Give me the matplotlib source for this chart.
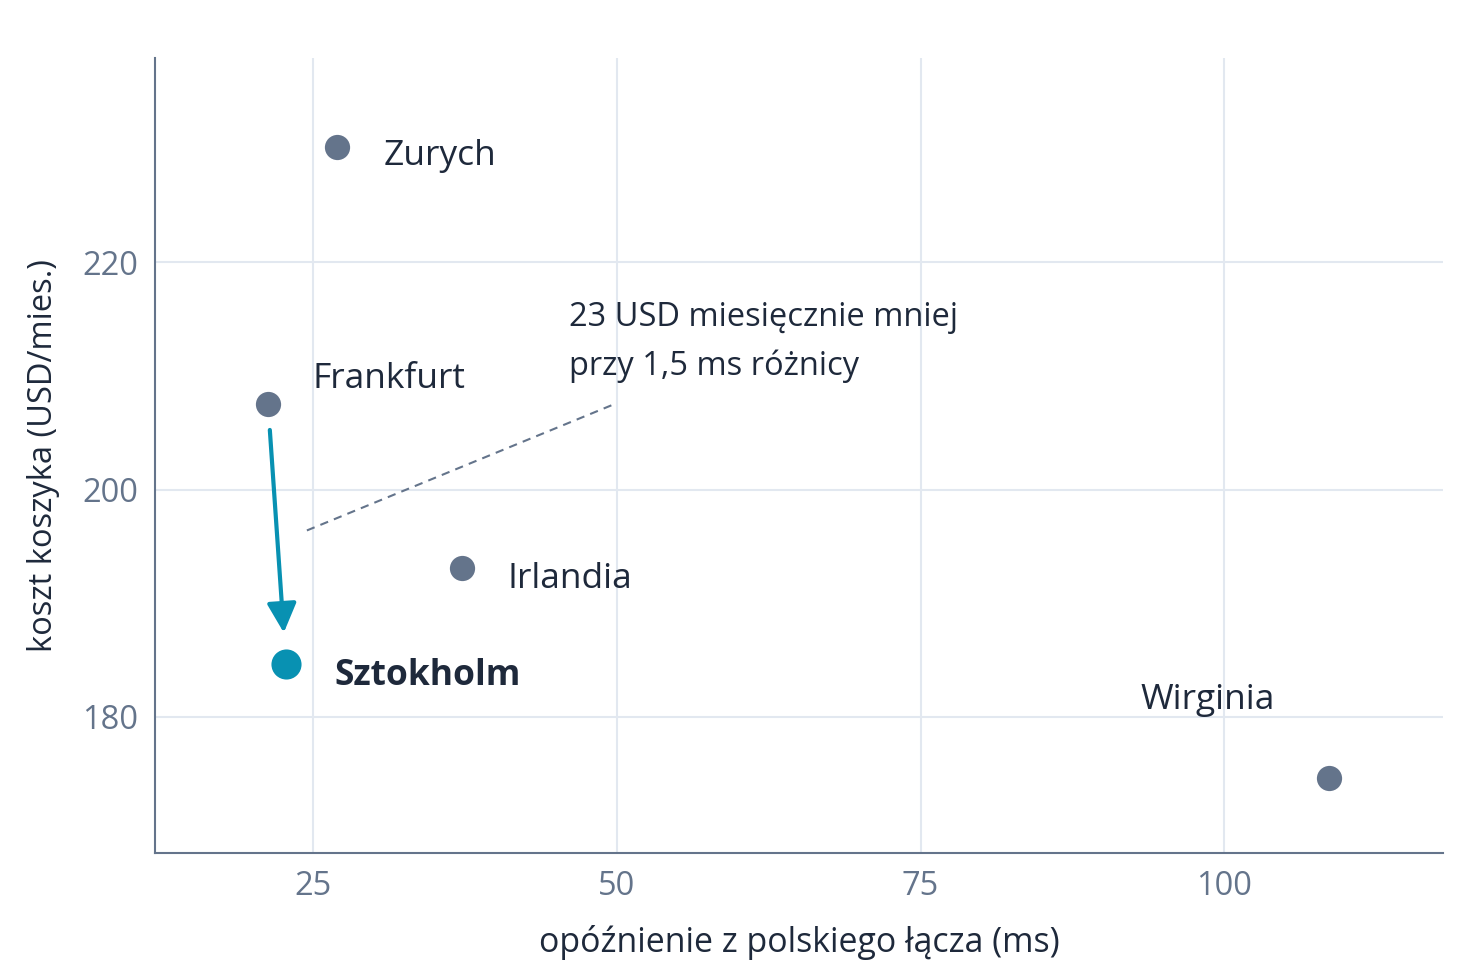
import matplotlib
matplotlib.use("Agg")
import matplotlib.pyplot as plt

plt.rcParams['font.family'] = ['Open Sans', 'DejaVu Sans']

cities = ["Zurych", "Frankfurt", "Irlandia", "Sztokholm", "Wirginia"]
latency_ms = [27.0, 21.3, 37.25, 22.8, 108.6]
cost_usd = [230.2, 207.5, 193.1, 184.6, 174.6]
highlight = "Sztokholm"

xticks = [25, 50, 75, 100]
yticks = [180, 200, 220]
note_text = "23 USD miesięcznie mniej\nprzy 1,5 ms różnicy"
xlabel = "opóźnienie z polskiego łącza (ms)"
ylabel = "koszt koszyka (USD/mies.)"

# label placement (pixel offsets, alignment)
label_style = {
    "Zurych": ((46, -9), "left"),
    "Frankfurt": ((44, 25), "left"),
    "Irlandia": ((46, -11), "left"),
    "Sztokholm": ((48, -12), "left"),
    "Wirginia": ((-121, 78), "center"),
}

DARK = "#1e293b"
GRAY = "#64748b"
ACCENT = "#0891b2"
GRID = "#e2e8f0"

fig = plt.figure(figsize=(14.8, 9.8), dpi=100)
ax = fig.add_axes([155/1480, 1-853/980, (1443-155)/1480, (853-58)/980])

ax.set_xlim(12, 118)
ax.set_ylim(168, 238)

for c, x, y in zip(cities, latency_ms, cost_usd):
    if c == highlight:
        ax.scatter([x], [y], s=470, color=ACCENT, zorder=4, linewidths=0)
    else:
        ax.scatter([x], [y], s=330, color=GRAY, zorder=4, linewidths=0)
    off, ha = label_style[c]
    ax.annotate(c, (x, y), xytext=off, textcoords="offset pixels",
                ha=ha, va="center", fontsize=25.5, color=DARK,
                fontweight="bold" if c == highlight else "normal", zorder=5)

# arrow Frankfurt -> Sztokholm
i_f = cities.index("Frankfurt")
i_s = cities.index(highlight)
ax.annotate("", xy=(latency_ms[i_s] - 0.2, cost_usd[i_s] + 2.8),
            xytext=(latency_ms[i_f] + 0.15, cost_usd[i_f] - 2.25),
            arrowprops=dict(arrowstyle="-|>,head_length=1.8,head_width=0.9",
                            color=ACCENT, lw=3, shrinkA=0, shrinkB=0),
            zorder=3)

# dashed leader line
ax.plot([24.5, 49.75], [196.4, 207.5], color=GRAY, lw=1.5,
        linestyle=(0, (4, 3)), zorder=3)
ax.text(46.05, 213.0, note_text, ha="left", va="center", fontsize=23.5,
        color=DARK, linespacing=1.6, zorder=5)

ax.set_xticks(xticks)
ax.set_yticks(yticks)
ax.tick_params(length=0, labelsize=23.5, colors=GRAY, pad=12)
ax.grid(True, color=GRID, lw=1.5)
ax.set_axisbelow(True)
for s in ["top", "right"]:
    ax.spines[s].set_visible(False)
for s in ["left", "bottom"]:
    ax.spines[s].set_color(GRAY)
    ax.spines[s].set_linewidth(1.5)

ax.set_xlabel(xlabel, fontsize=24.4, color=DARK, labelpad=16)
ax.set_ylabel(ylabel, fontsize=23.5, color=DARK, labelpad=16)

fig.savefig("out.png", dpi=100, facecolor="white")
